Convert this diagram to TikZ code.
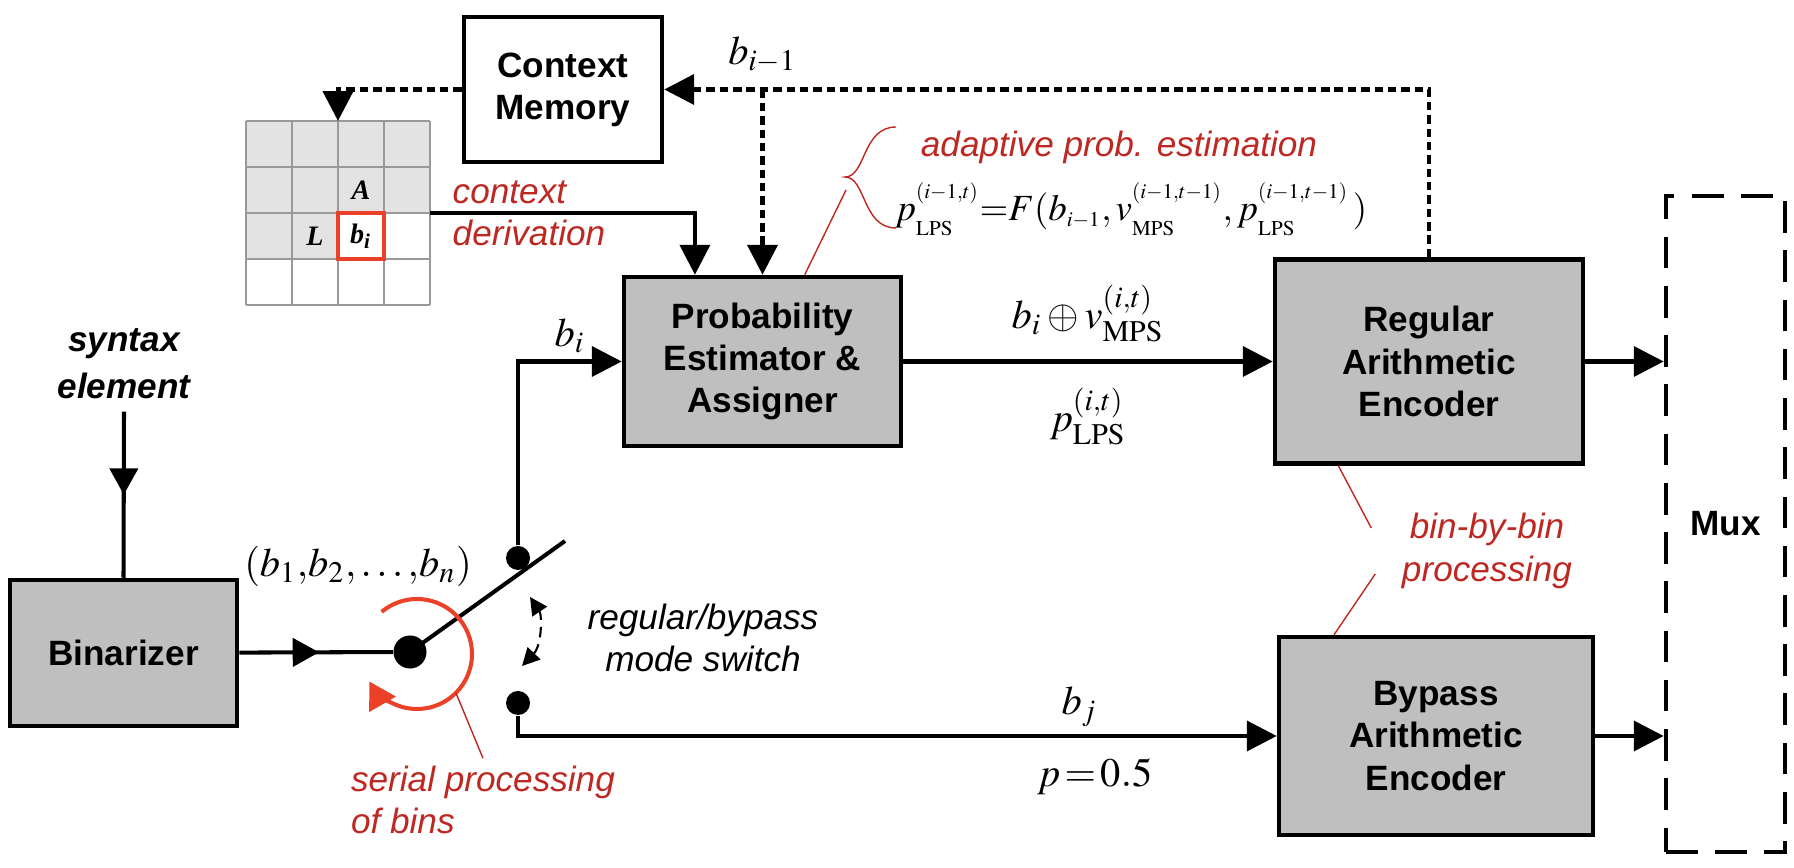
\documentclass[tikz,border=0pt]{standalone}
\usepackage{mathptmx}
\usepackage{fontspec}
\setmainfont{Liberation Serif}
\setsansfont{Liberation Sans}
\usetikzlibrary{arrows.meta,calc,positioning,decorations.markings}
\DeclareMathSizes{10.5}{10.5}{6}{5}

\definecolor{lblred}{RGB}{190,40,35}
\definecolor{hotred}{RGB}{235,65,40}
\newcommand{\boxfont}{\sffamily\bfseries\fontsize{10}{12}\selectfont}
\newcommand{\redfont}{\sffamily\itshape\fontsize{10}{12}\selectfont}
\newcommand{\mathfont}{\fontsize{11.5}{13}\selectfont}
% split super/subscripts a little further apart
\newcommand{\ssp}[2]{^{\raisebox{2.6pt}{$\scriptstyle #1$}}_{\raisebox{-1.6pt}{$\scriptstyle #2$}}}

\tikzset{
  blk/.style={draw, line width=1.25pt, fill=gray!50, align=center, font=\boxfont, inner sep=0pt},
  arr/.style={line width=1.15pt, -{Triangle[length=8.5pt,width=8.5pt]}},
  dasharr/.style={line width=1.2pt, dash pattern=on 2.4pt off 1.4pt, -{Triangle[length=8.5pt,width=8.5pt]}},
  midarr/.style={line width=1.15pt, postaction={decorate},
    decoration={markings, mark=at position #1 with {\arrow{Triangle[length=7.5pt,width=8pt]}}}},
  swdot/.style={circle, fill, inner sep=0pt, minimum size=#1},
  redlbl/.style={text=lblred, font=\redfont, inner sep=2pt},
  leader/.style={lblred, line width=0.4pt},
  mlbl/.style={font=\mathfont, inner sep=2pt},
  cellgray/.style={fill=black!11},
  gridln/.style={draw=gray!80, line width=0.5pt},
  cellfont/.style={font=\bfseries\itshape\fontsize{8}{8}\selectfont}
}

\begin{document}
\begin{tikzpicture}[x=0.01cm, y=-0.01cm]
\useasboundingbox (0,0) rectangle (1794,868);

% context template
\foreach \r/\c in {0/0,0/1,0/2,0/3,1/0,1/1,1/2,1/3,2/0,2/1}
  \fill[cellgray] ({246+46*\c},{121+46*\r}) rectangle ++(46,46);
\foreach \k in {0,...,4} {
  \draw[gridln] ({246+46*\k},121) -- ++(0,184);
  \draw[gridln] (246,{121+46*\k}) -- ++(184,0);
}
\draw[hotred, line width=1.1pt] (338,213) rectangle (384,259);
\node[cellfont] (cA) at (361,190) {A};
\node[cellfont] (cL) at (315,236) {L};
\node[cellfont] (cb) at (361,236) {b\textsubscript{i}};
\coordinate (gtop) at (338,121);
\coordinate (gright) at (430,213);

% blocks
\node[blk, fill=white, minimum width=1.98cm, minimum height=1.45cm] (ctx) at (563,89.5) {Context\\Memory};
\node[blk, minimum width=2.27cm, minimum height=1.46cm] (bin) at (123.5,653) {Binarizer};
\node[blk, minimum width=2.77cm, minimum height=1.69cm] (pe) at (762.5,361.5) {Probability\\Estimator \&\\Assigner};
\node[blk, minimum width=3.08cm, minimum height=2.04cm] (rae) at (1429,361.5) {Regular\\Arithmetic\\Encoder};
\node[blk, minimum width=3.14cm, minimum height=1.98cm] (bae) at (1436,736) {Bypass\\Arithmetic\\Encoder};
\node[blk, fill=none, dash pattern=on 9pt off 5pt, line width=1.3pt, minimum width=1.19cm, minimum height=6.56cm] (mux) at (1725.5,524) {Mux};

% switch
\node[swdot=0.33cm] (pivot) at (410,652) {};
\node[swdot=0.24cm] (ctop) at (518,558) {};
\node[swdot=0.24cm] (cbot) at (518,703) {};
\coordinate (blade) at ($(pivot)+(155,-111)$);
\draw[line width=1.15pt] (pivot.center) -- (blade);

\node[font=\sffamily\bfseries\itshape\fontsize{10}{13.4}\selectfont, align=center] (syn) at (124,364) {syntax\\element};
\draw[midarr=0.5] (syn.south) -- (bin.north);
\draw[midarr=0.52] (bin) -- (pivot);
\node[mlbl] (binseq) at (358,566) {$(b_1{,}b_2{,}\ldots{,}b_n)$};

\draw[arr] (ctop) |- node[mlbl, pos=0.75, above] (bilbl) {$b_i$} (pe.west);
\draw[arr] (cbot) |- node[mlbl, pos=0.87, above] (bjlbl) {$b_j$}
  node[mlbl, pos=0.88, below=4pt] (plbl) {$p\!=\!0.5$} (bae.west);
\draw[arr] (pe) -- node[mlbl, above=3pt] (xorlbl) {$b_i\oplus v^{(i,t)}_{\mathrm{MPS}}$}
  node[mlbl, below=5pt] (plpslbl) {$p^{(i,t)}_{\mathrm{LPS}}$} (rae);
\draw[arr] (rae.east) -- (rae.east -| mux.west);
\draw[arr] (bae.east) -- (bae.east -| mux.west);

% feedback of b_{i-1}
\draw[dasharr] (rae.north) |- (ctx.east);
\draw[dasharr] (pe.north |- ctx.east) node[mlbl, above=2pt] (bprev) {$b_{i-1}$} -- (pe.north);
\draw[dasharr] (ctx.west) -| (gtop);

% context derivation
\coordinate (pein) at ($(pe.north west)!0.26!(pe.north east)$);
\draw[arr] (gright) -| (pein);
\node[redlbl, right=0.15cm of gright, align=left] (ctxlbl) {context\\derivation};

% adaptive estimation
\node[redlbl] (adlbl) at (1119,147) {adaptive prob. estimation};
\node[font=\fontsize{10.5}{13}\selectfont, inner sep=2pt, anchor=base] (fmla) at (1131,221)
  {$p\ssp{(i-1,t)}{\mathrm{LPS}}{=}F(b_{i-1},v\ssp{(i-1,t-1)}{\mathrm{MPS}},p\ssp{(i-1,t-1)}{\mathrm{LPS}}\,)$};
\draw[leader] (896,127) .. controls (862,127) and (866,177) .. (845,177)
  .. controls (866,177) and (862,228) .. (896,228);
\draw[leader] ($(pe.north west)!0.65!(pe.north east)$) -- (846,190);

% bin-by-bin
\node[redlbl, align=center] (bblbl) at (1487,551) {bin-by-bin\\processing};
\draw[leader] ($(rae.south west)!0.21!(rae.south east)$) -- ($(bblbl.west)+(-23,-23)$);
\draw[leader] ($(bae.north west)!0.18!(bae.north east)$) -- ($(bblbl.west)+(-19,23)$);

% serial processing
\coordinate (rc) at (417,654);
\draw[hotred, line width=1.15pt, -{Triangle[length=7.5pt,width=8.5pt]}] (rc) ++(-130:55) arc[start angle=-130, end angle=150, radius=55];
\node[redlbl, align=left] (splbl) at (483,800) {serial processing\\of bins};
\draw[leader] ($(rc)+(45:55)$) -- (splbl.north);

% mode switch
\draw[densely dashed, line width=0.6pt, {Triangle[length=5pt,width=5pt]}-{Triangle[length=5pt,width=5pt]}]
  (522,666) .. controls (542,645) and (542,615) .. (530,597);
\node[font=\sffamily\itshape\fontsize{10}{12}\selectfont, align=center] (swlbl) at (703,638) {regular/bypass\\mode switch};
\end{tikzpicture}
\end{document}
